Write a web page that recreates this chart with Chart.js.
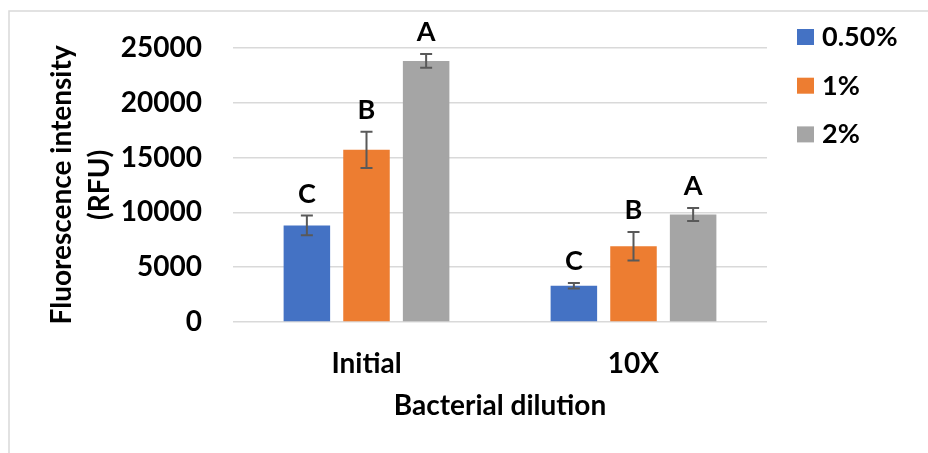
<!DOCTYPE html>
<html>
<head>
<meta charset="utf-8">
<script src="https://cdn.jsdelivr.net/npm/chart.js@4"></script>
<style>
  body { margin: 0; background: #fff; }
  canvas { display: block; }
</style>
</head>
<body>
<canvas id="chart__fluorescence" width="928" height="453"></canvas>
<script>
const dilutions = ['Initial', '10X'];
const seriesLabels = ['0.50%', '1%', '2%'];
const mean05 = [8800, 3300];
const mean1 = [15700, 6900];
const mean2 = [23800, 9800];
const err05 = [900, 250];
const err1 = [1650, 1300];
const err2 = [630, 600];
const letters05 = ['C', 'C'];
const letters1 = ['B', 'B'];
const letters2 = ['A', 'A'];
const yTicks = [0, 5000, 10000, 15000, 20000, 25000];

const colors = ['#4472C4', '#ED7D31', '#A5A5A5'];
const FONT = 'Lato';

// frame line on the left and top edges
const framePlugin = {
    id: 'frame',
    beforeDraw(chart) {
        const ctx = chart.ctx;
        ctx.save();
        ctx.strokeStyle = '#d9d9d9';
        ctx.lineWidth = 1.5;
        ctx.beginPath();
        ctx.moveTo(9, chart.height);
        ctx.lineTo(9, 11);
        ctx.lineTo(chart.width, 11);
        ctx.stroke();
        ctx.restore();
    }
};

// error bars and significance letters on top of each bar
const errorPlugin = {
    id: 'errorBars',
    afterDatasetsDraw(chart) {
        const ctx = chart.ctx;
        const y = chart.scales.y;
        ctx.save();
        chart.data.datasets.forEach((ds, di) => {
            const meta = chart.getDatasetMeta(di);
            meta.data.forEach((bar, i) => {
                const v = ds.data[i];
                const e = ds.errors[i];
                const top = y.getPixelForValue(v + e);
                const bot = y.getPixelForValue(v - e);
                ctx.strokeStyle = '#595959';
                ctx.lineWidth = 2;
                ctx.beginPath();
                ctx.moveTo(bar.x, top);
                ctx.lineTo(bar.x, bot);
                ctx.moveTo(bar.x - 6, top);
                ctx.lineTo(bar.x + 6, top);
                ctx.moveTo(bar.x - 6, bot);
                ctx.lineTo(bar.x + 6, bot);
                ctx.stroke();

                ctx.fillStyle = '#000';
                ctx.font = 'bold 27px ' + FONT;
                ctx.textAlign = 'center';
                ctx.textBaseline = 'alphabetic';
                ctx.fillText(ds.letters[i], bar.x, top - 13);
            });
        });
        ctx.restore();
    }
};

// legend drawn at the right of the plot
const sideLegend = {
    id: 'sideLegend',
    afterDraw(chart) {
        const ctx = chart.ctx;
        ctx.save();
        ctx.font = 'bold 27px ' + FONT;
        ctx.textAlign = 'left';
        ctx.textBaseline = 'alphabetic';
        chart.data.datasets.forEach((ds, i) => {
            const cy = 37 + i * 48.7;
            ctx.fillStyle = ds.backgroundColor;
            ctx.fillRect(797, cy - 8, 17, 16);
            ctx.fillStyle = '#000';
            ctx.fillText(ds.label, 822, cy + 9);
        });
        ctx.restore();
    }
};

new Chart(document.getElementById('chart__fluorescence'), {
    type: 'bar',
    data: {
        labels: dilutions,
        datasets: [
            { label: seriesLabels[0], data: mean05, errors: err05, letters: letters05, backgroundColor: colors[0] },
            { label: seriesLabels[1], data: mean1, errors: err1, letters: letters1, backgroundColor: colors[1] },
            { label: seriesLabels[2], data: mean2, errors: err2, letters: letters2, backgroundColor: colors[2] }
        ]
    },
    options: {
        responsive: false,
        animation: false,
        categoryPercentage: 0.67,
        barPercentage: 0.78,
        layout: { padding: { top: 44, right: 161, bottom: 0, left: 0 } },
        plugins: {
            legend: { display: false },
            tooltip: { enabled: false }
        },
        scales: {
            x: {
                grid: { display: false },
                border: { display: false },
                ticks: {
                    color: '#000',
                    font: { family: FONT, size: 28, weight: 'bold' },
                    padding: 17
                },
                title: {
                    display: true,
                    text: 'Bacterial dilution',
                    color: '#000',
                    font: { family: FONT, size: 28, weight: 'bold', lineHeight: 1.2 },
                    padding: { top: 0, bottom: 30 }
                },
                afterFit(scale) { scale.height = 131; }
            },
            y: {
                min: 0,
                max: 25000,
                afterBuildTicks(scale) { scale.ticks = yTicks.map(v => ({ value: v })); },
                grid: { color: '#d9d9d9', lineWidth: 1.5, drawTicks: false },
                border: { display: false },
                ticks: {
                    color: '#000',
                    font: { family: FONT, size: 28, weight: 'bold' },
                    padding: 31,
                    callback: v => String(v)
                },
                title: {
                    display: true,
                    text: ['Fluorescence intensity', '(RFU)'],
                    color: '#000',
                    font: { family: FONT, size: 28, weight: 'bold', lineHeight: 1.36 },
                    padding: { top: 43, bottom: 0 }
                },
                afterFit(scale) { scale.width = 233; }
            }
        }
    },
    plugins: [framePlugin, errorPlugin, sideLegend]
});
</script>
</body>
</html>
